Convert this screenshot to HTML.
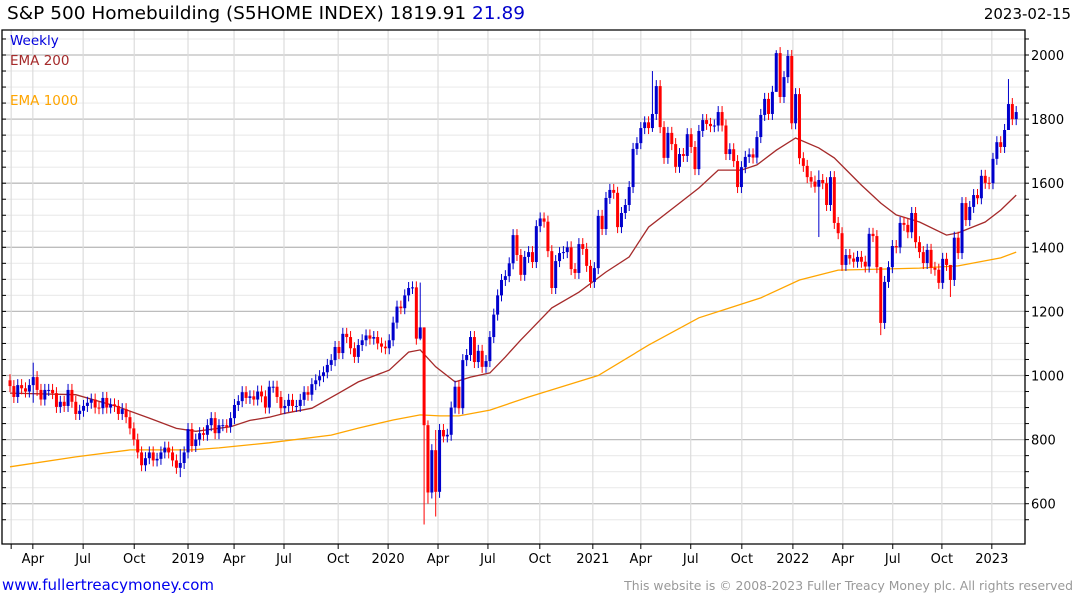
<!DOCTYPE html>
<html><head><meta charset="utf-8">
<style>
body{margin:0;background:#fff;width:1075px;height:600px;overflow:hidden;font-family:"DejaVu Sans","Liberation Sans",sans-serif;}
svg{display:block}
</style></head>
<body>
<svg id="chart" width="1075" height="600" xmlns="http://www.w3.org/2000/svg">
<g id="grid"></g>
<g id="ema"></g>
<g id="candles"></g>
<g id="axes"></g>
<text x="7" y="19" font-size="17.5" textLength="518" lengthAdjust="spacingAndGlyphs" fill="#000">S&amp;P 500 Homebuilding (S5HOME INDEX) 1819.91 <tspan fill="#0000cc">21.89</tspan></text>
<text x="1071" y="19" font-size="15" text-anchor="end" fill="#000">2023-02-15</text>
<text x="10" y="45" font-size="13.5" fill="#0000dd">Weekly</text>
<text x="10" y="65" font-size="13.5" fill="#a52a2a">EMA 200</text>
<text x="10" y="105" font-size="13.5" fill="#ffa500">EMA 1000</text>
<text x="2" y="590" font-size="15" fill="#0000ee">www.fullertreacymoney.com</text>
<text x="1073" y="590" font-size="12.4" text-anchor="end" fill="#999">This website is © 2008-2023 Fuller Treacy Money plc. All rights reserved</text>
</svg>
<script>
const closes = [967,933,970,960,950,970,995,955,925,955,955,945,902,918,905,955,918,880,890,905,915,925,900,898,930,900,910,905,880,895,870,835,800,760,720,742,760,735,740,760,775,760,735,712,727,760,833,780,800,820,815,845,867,820,845,845,840,867,908,920,948,930,935,925,950,935,900,965,
965,933,898,905,924,905,905,924,948,940,973,985,998,1010,1033,1048,1089,1070,1130,1120,1085,1058,1095,1110,1125,1115,1120,1100,1090,1085,1110,1165,1215,1210,1250,1273,1275,1115,1150,845,635,767,637,830,810,815,900,965,898,1048,1064,1120,1042,1077,1027,1045,1120,1190,1250,1298,1310,1350,1438,1376,1314,1370,1385,
1354,1466,1490,1480,1388,1273,1357,1382,1385,1400,1332,1320,1410,1395,1342,1292,1335,1498,1457,1554,1579,1570,1463,1507,1532,1588,1707,1725,1772,1790,1772,1816,1903,1775,1679,1757,1722,1651,1691,1685,1753,1713,1644,1763,1797,1785,1778,1780,1822,1780,1691,1706,1669,1588,1650,1682,1690,1680,1744,1813,1863,1816,1885,2006,
1869,1931,1997,1787,1878,1678,1654,1619,1605,1589,1610,1600,1532,1619,1476,1444,1345,1376,1365,1355,1370,1355,1340,1442,1435,1338,1164,1292,1338,1404,1400,1476,1470,1447,1507,1416,1385,1351,1392,1336,1330,1289,1364,1345,1298,1430,1382,1538,1485,1526,1563,1553,1623,1601,1600,1676,1728,1713,1766,1847,1800,1822];
const firstOpen = 985;
const wickIdx  = [6,44,106,107,108,110,166,198,209,225,243,258];
const wickHigh = [1040,770,1290,1130,860,830,1950,2015,1640,1230,1330,1925];
const wickLow  = [915,683,1110,535,600,560,1760,1950,1432,1126,1245,1780];
const ema200Idx = [0,17,28,36,43,48,57,62,67,71,78,85,90,98,103,106,110,115,119,124,128,132,134,140,147,154,160,165,173,178,183,189,193,198,203,209,213,220,225,229,235,242,245,252,256,260];
const ema200Val = [945,940,902,867,835,826,840,860,870,882,898,945,980,1017,1073,1080,1027,980,995,1008,1058,1111,1136,1211,1260,1323,1370,1463,1538,1585,1641,1641,1657,1703,1741,1710,1679,1594,1538,1501,1479,1438,1445,1479,1516,1563];
const ema1000Idx = [0,17,31,47,54,67,83,90,99,106,111,116,124,134,152,165,178,186,194,204,214,225,235,245,256,260];
const ema1000Val = [715,746,768,768,774,790,814,836,861,877,874,874,892,933,1000,1095,1180,1211,1242,1298,1329,1332,1335,1342,1367,1385];
const yTicks = [600,800,1000,1200,1400,1600,1800,2000];
const xTickLabels = ["","Apr","Jul","Oct","2019","Apr","Jul","Oct","2020","Apr","Jul","Oct","2021","Apr","Jul","Oct","2022","Apr","Jul","Oct","2023"];
const xTickWeeks = [0.3,5.9,18.9,32.1,46,57.9,70.8,84.8,97.7,110.6,123.5,136.9,150.6,163,175.9,189.1,202.3,215.2,228.1,240.8,253.7];

const NS="http://www.w3.org/2000/svg";
const L=2,R=1025,T=30,B=544;
function yS(p){return 55+(2000-p)*0.3205;}
function xS(i){return 10+i*3.87;}
function mk(tag,attrs,parent){const e=document.createElementNS(NS,tag);for(const k in attrs)e.setAttribute(k,attrs[k]);parent.appendChild(e);return e;}
const grid=document.getElementById('grid'),axes=document.getElementById('axes'),cg=document.getElementById('candles'),eg=document.getElementById('ema');
for(let p=550;p<=2050;p+=50){const y=yS(p);if(y<T||y>B)continue;const major=(p%200===0);
 const ln=mk('line',{x1:L,x2:R,y1:y,y2:y,stroke:major?'#bdbdbd':'#ececec','stroke-width':major?1.3:1.2},grid);
 
 
 const t1=mk('line',{x1:R,x2:R+4,y1:y,y2:y,stroke:'#000'},axes);
 
 
 const t2=mk('line',{x1:L,x2:L+4,y1:y,y2:y,stroke:'#000'},axes);
 
 
}
yTicks.forEach(p=>{const t=mk('text',{x:R+6,y:yS(p)+5,'font-size':13,fill:'#000'},axes);t.textContent=p;
 
 });
xTickWeeks.forEach((w,i)=>{const x=xS(w);
 const g=mk('line',{x1:x,x2:x,y1:T,y2:B,stroke:'#dcdcdc','stroke-width':1.2},grid);
 
 
 const tk=mk('line',{x1:x,x2:x,y1:B,y2:B+5,stroke:'#000'},axes);
 
 
 if(xTickLabels[i]){const t=mk('text',{x:x,y:B+19,'font-size':13,fill:'#000','text-anchor':'middle'},axes);t.textContent=xTickLabels[i];
 
 }
});
const fr=mk('path',{d:`M${L} ${T}H${R}V${B}H${L}Z`,fill:'none',stroke:'#000','stroke-width':1.3},axes);


function line(idx,val,color,name){let d='';idx.forEach((i,k)=>{d+=(k?'L':'M')+xS(i).toFixed(1)+' '+yS(val[k]).toFixed(1);});
 const p=mk('path',{d:d,fill:'none',stroke:color,'stroke-width':1.3},eg);
 
 }
line(ema1000Idx,ema1000Val,'#ffa500','ema-1000-line');
line(ema200Idx,ema200Val,'#a52a2a','ema-200-line');
closes.forEach((c,i)=>{const o=i?closes[i-1]:firstOpen;const up=c>=o;const col=up?'#0000cc':'#ff0000';
 let hi=Math.max(o,c),lo=Math.min(o,c);const k=wickIdx.indexOf(i);
 let hy,ly;
 if(k>=0){hy=yS(Math.max(hi,wickHigh[k]));ly=yS(Math.min(lo,wickLow[k]));}else{hy=yS(hi)-6;ly=yS(lo)+6;}
 const x=xS(i);
 const g=mk('g',{},cg);
 
 
 mk('line',{x1:x,x2:x,y1:hy,y2:ly,stroke:col,'stroke-width':1},g);
 const bt=yS(hi),bb=yS(lo);
 mk('rect',{x:x-1.5,y:bt,width:3,height:Math.max(1,bb-bt),fill:col},g);
});
</script>
</body></html>
